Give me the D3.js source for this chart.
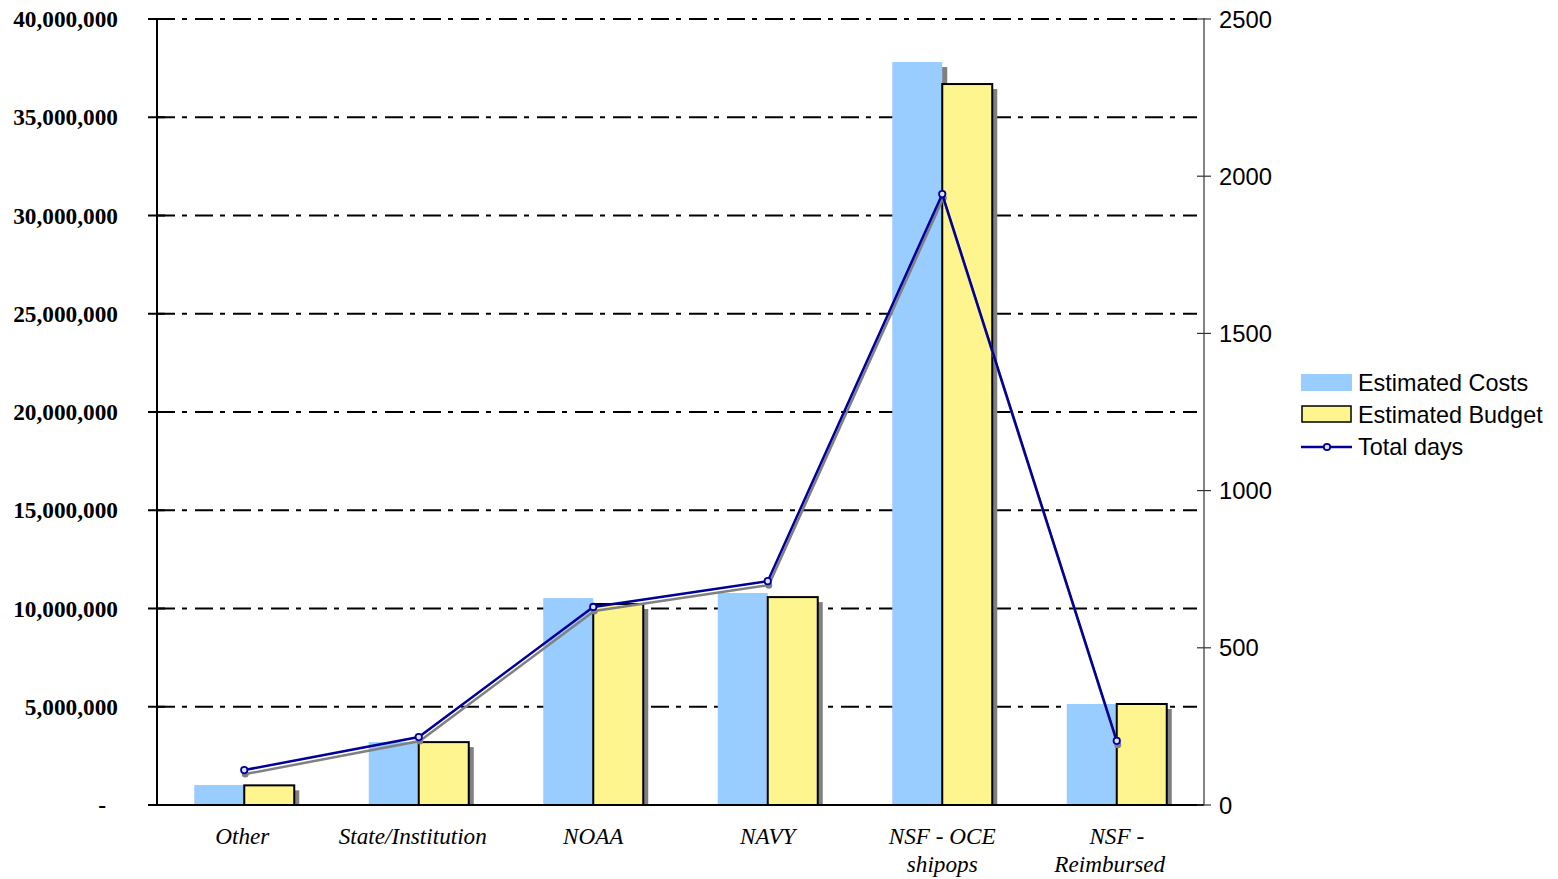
<!DOCTYPE html>
<html>
<head>
<meta charset="utf-8">
<script src="https://cdn.jsdelivr.net/npm/d3@7"></script>
<style>
  html, body { margin: 0; padding: 0; background: #fff; }
  svg { display: block; }
</style>
</head>
<body>
<svg id="chart" width="1558" height="879"></svg>
<script>
const categories = ["Other", "State/Institution", "NOAA", "NAVY", "NSF - OCE\nshipops", "NSF -\nReimbursed"];
const estimatedCosts = [1020000, 3200000, 10530000, 10790000, 37810000, 5140000];
const estimatedBudget = [1000000, 3200000, 10230000, 10580000, 36690000, 5140000];
const totalDays = [111, 216, 630, 712, 1943, 204];
const leftTicks = [0, 5000000, 10000000, 15000000, 20000000, 25000000, 30000000, 35000000, 40000000];
const rightTicks = [0, 500, 1000, 1500, 2000, 2500];
const seriesNames = ["Estimated Costs", "Estimated Budget", "Total days"];

const svg = d3.select("#chart");
const X0 = 157, X1 = 1204, Y0 = 805, Y1 = 19;

const x = d3.scaleBand().domain(categories).range([X0, X1]).padding(0);
const yL = d3.scaleLinear().domain([0, 40000000]).range([Y0, Y1]);
const yR = d3.scaleLinear().domain([0, 2500]).range([Y0, Y1]);

const blue = "#99CCFF", yellow = "#FFF58F", navy = "#000099", shadow = "#808080";
const barW = 50;

// gridlines
svg.append("g").selectAll("line").data(leftTicks.filter(d => d > 0)).join("line")
  .attr("x1", X0).attr("x2", 1197)
  .attr("y1", d => yL(d)).attr("y2", d => yL(d))
  .attr("stroke", "#000").attr("stroke-width", 2)
  .attr("stroke-dasharray", "18,7,5,8");

const defs = svg.append("defs");
defs.append("clipPath").attr("id", "plotclip").append("rect")
  .attr("x", X0).attr("y", 0).attr("width", X1 - X0).attr("height", Y0);

const gBars = svg.append("g").attr("clip-path", "url(#plotclip)");
const cx = d => x(d) + x.bandwidth() / 2;

gBars.selectAll(".bs").data(categories).join("rect")
  .attr("x", (d) => cx(d) - barW + 5)
  .attr("y", (d, i) => yL(estimatedCosts[i]) + 5)
  .attr("width", barW).attr("height", (d, i) => Y0 - yL(estimatedCosts[i]))
  .attr("fill", shadow);
gBars.selectAll(".b").data(categories).join("rect")
  .attr("x", (d) => cx(d) - barW)
  .attr("y", (d, i) => yL(estimatedCosts[i]))
  .attr("width", barW).attr("height", (d, i) => Y0 - yL(estimatedCosts[i]))
  .attr("fill", blue);
gBars.selectAll(".ys").data(categories).join("rect")
  .attr("x", (d) => cx(d) + 5)
  .attr("y", (d, i) => yL(estimatedBudget[i]) + 5)
  .attr("width", barW).attr("height", (d, i) => Y0 - yL(estimatedBudget[i]))
  .attr("fill", shadow);
gBars.selectAll(".y").data(categories).join("rect")
  .attr("x", (d) => cx(d))
  .attr("y", (d, i) => yL(estimatedBudget[i]))
  .attr("width", barW).attr("height", (d, i) => Y0 - yL(estimatedBudget[i]))
  .attr("fill", yellow).attr("stroke", "#000").attr("stroke-width", 2);

// line
const lineGen = d3.line().x((d, i) => cx(categories[i])).y(d => yR(d));
svg.append("path").datum(totalDays)
  .attr("d", lineGen).attr("transform", "translate(1,4)")
  .attr("fill", "none").attr("stroke", shadow).attr("stroke-width", 2.5);
svg.selectAll(".ms").data(totalDays).join("circle")
  .attr("cx", (d, i) => cx(categories[i]) + 1).attr("cy", d => yR(d) + 4)
  .attr("r", 3.5).attr("fill", shadow);
svg.append("path").datum(totalDays)
  .attr("d", lineGen)
  .attr("fill", "none").attr("stroke", navy).attr("stroke-width", 2.5);
svg.selectAll(".m").data(totalDays).join("circle")
  .attr("cx", (d, i) => cx(categories[i])).attr("cy", d => yR(d))
  .attr("r", 3.2).attr("fill", "#dde4ff").attr("stroke", navy).attr("stroke-width", 1.8);

// left axis
const gL = svg.append("g");
gL.append("line").attr("x1", X0).attr("x2", X0).attr("y1", Y1).attr("y2", Y0)
  .attr("stroke", "#000").attr("stroke-width", 2);
gL.selectAll(".t").data(leftTicks).join("line")
  .attr("x1", 148).attr("x2", 165).attr("y1", d => yL(d)).attr("y2", d => yL(d))
  .attr("stroke", "#000").attr("stroke-width", 2);
gL.selectAll("text").data(leftTicks).join("text")
  .attr("x", d => d === 0 ? 106 : 118).attr("y", d => yL(d)).attr("dy", "0.35em")
  .attr("text-anchor", "end")
  .attr("font-family", "Liberation Serif, Times New Roman, serif")
  .attr("font-weight", "bold").attr("font-size", 23.3)
  .text(d => d === 0 ? "-" : d3.format(",")(d));

// bottom axis
svg.append("line").attr("x1", 150).attr("x2", X1).attr("y1", Y0).attr("y2", Y0)
  .attr("stroke", "#000").attr("stroke-width", 2);

// right axis
const gR = svg.append("g");
gR.append("line").attr("x1", X1).attr("x2", X1).attr("y1", Y1 - 1).attr("y2", Y0)
  .attr("stroke", "#333").attr("stroke-width", 1.2);
gR.selectAll(".t").data(rightTicks).join("line")
  .attr("x1", 1197).attr("x2", 1211).attr("y1", d => yR(d)).attr("y2", d => yR(d))
  .attr("stroke", "#333").attr("stroke-width", 1.2);
gR.selectAll("text").data(rightTicks).join("text")
  .attr("x", 1219).attr("y", d => yR(d)).attr("dy", "0.36em")
  .attr("font-family", "Liberation Sans, Arial, sans-serif").attr("font-size", 23.8)
  .text(d => d);

// category labels (per-line horizontal nudges to mimic original wrapping)
const lineShift = { "State/Institution": [-6], "NSF -\nReimbursed": [0, -7], "Other": [-2] };
const gC = svg.append("g");
categories.forEach(c => {
  const lines = c.split("\n");
  const shifts = lineShift[c] || [];
  const t = gC.append("text")
    .attr("x", cx(c)).attr("y", 844)
    .attr("text-anchor", "middle")
    .attr("font-family", "Liberation Serif, Times New Roman, serif")
    .attr("font-style", "italic").attr("font-size", 23.2);
  lines.forEach((l, i) => t.append("tspan")
    .attr("x", cx(c) + (shifts[i] || 0)).attr("dy", i === 0 ? 0 : 28).text(l));
});

// legend
const lg = svg.append("g");
lg.append("rect").attr("x", 1301).attr("y", 374).attr("width", 51).attr("height", 17).attr("fill", blue);
lg.append("rect").attr("x", 1302).attr("y", 406).attr("width", 49).attr("height", 16)
  .attr("fill", yellow).attr("stroke", "#000").attr("stroke-width", 1.5);
lg.append("line").attr("x1", 1301).attr("x2", 1352).attr("y1", 447).attr("y2", 447)
  .attr("stroke", navy).attr("stroke-width", 2.5);
lg.append("circle").attr("cx", 1327).attr("cy", 447).attr("r", 3.2)
  .attr("fill", "#dde4ff").attr("stroke", navy).attr("stroke-width", 1.8);
lg.selectAll("text").data(seriesNames).join("text")
  .attr("x", 1358).attr("y", (d, i) => 383 + i * 32).attr("dy", "0.36em")
  .attr("font-family", "Liberation Sans, Arial, sans-serif").attr("font-size", 23.4)
  .text(d => d);
</script>
</body>
</html>
